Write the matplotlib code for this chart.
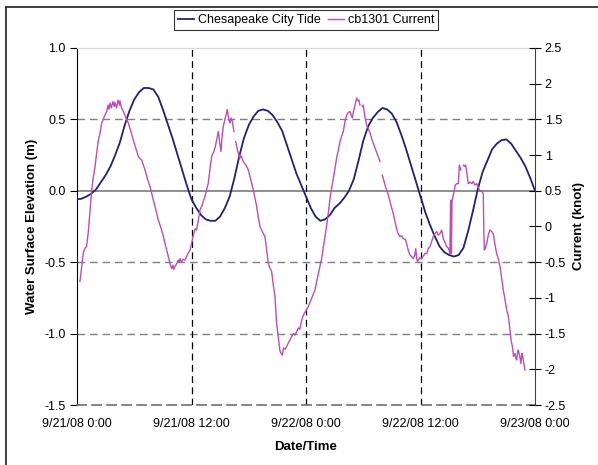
import matplotlib

matplotlib.use("Agg")
import matplotlib.dates as mdates
import matplotlib.pyplot as plt
import numpy as np
import pandas as pd
from matplotlib.lines import Line2D

plt.rcParams["font.family"] = ["Liberation Sans", "DejaVu Sans"]

start = pd.Timestamp("2008-09-21 00:00")

# Chesapeake City tide, every half hour from start -> elevation (m)
tide_hours = [i * 0.5 for i in range(97)]
tide_m = [
    -0.06, -0.055, -0.04, -0.02, 0.01, 0.06, 0.11, 0.17, 0.25, 0.34,
    0.46, 0.56, 0.64, 0.69, 0.72, 0.72, 0.71, 0.66, 0.57, 0.47,
    0.37, 0.26, 0.15, 0.04, -0.06, -0.12, -0.17, -0.20, -0.21, -0.21,
    -0.18, -0.12, -0.04, 0.09, 0.24, 0.37, 0.46, 0.52, 0.56, 0.57,
    0.56, 0.53, 0.48, 0.42, 0.32, 0.22, 0.12, 0.04, -0.04, -0.12,
    -0.18, -0.21, -0.20, -0.17, -0.12, -0.09, -0.05, 0.00, 0.08, 0.21,
    0.35, 0.45, 0.51, 0.55, 0.58, 0.57, 0.54, 0.48, 0.39, 0.29,
    0.18, 0.07, -0.04, -0.15, -0.24, -0.32, -0.39, -0.43, -0.45, -0.46,
    -0.45, -0.40, -0.28, -0.14, 0.01, 0.13, 0.21, 0.29, 0.33, 0.355,
    0.36, 0.33, 0.28, 0.23, 0.17, 0.09, 0.00,
]

# cb1301 current, hours after start -> knots (nan = gap in record)
cur_hours = [
    0.31, 0.50, 0.66, 0.85, 1.00, 1.19, 1.35, 1.54, 1.70, 1.89,
    2.05, 2.24, 2.40, 2.59, 2.80, 3.00, 3.11, 3.25, 3.35, 3.46,
    3.60, 3.75, 3.90, 3.98, 4.15, 4.30, 4.45, 4.50, 4.65, 4.86,
    5.10, 5.38, 5.65, 5.90, 6.15, 6.43, 6.60, 6.78, 7.00, 7.13,
    7.40, 7.65, 7.85, 8.00, 8.25, 8.52, 8.80, 9.05, 9.30, 9.57,
    9.75, 9.92, 10.05, 10.15, 10.27, 10.45, 10.60, 10.70, 10.79, 10.95,
    11.10, 11.32, 11.55, 11.84, 12.00, 12.19, 12.40, 12.54, 12.71, 12.89,
    13.10, 13.25, 13.41, 13.60, 13.76, 13.95, 14.11, 14.30, 14.46, 14.65,
    14.81, 14.95, 15.09, 15.20, 15.33, 15.50, 15.65, 15.75, 15.85, 15.95,
    16.03, 16.15, 16.28, 16.45, 16.54, 16.63, 16.85, 17.08, 17.20, 17.43,
    17.70, 17.96, 18.20, 18.48, 18.65, 18.83, 19.00, 19.18, 19.45, 19.70,
    19.85, 20.05, 20.20, 20.40, 20.55, 20.75, 20.85, 20.92, 21.10, 21.27,
    21.40, 21.52, 21.65, 21.80, 21.97, 22.20, 22.35, 22.50, 22.70, 22.85,
    23.02, 23.20, 23.35, 23.55, 23.80, 24.00, 24.24, 24.60, 24.94, 25.12,
    25.40, 25.64, 25.90, 26.17, 26.35, 26.51, 26.70, 26.86, 27.05, 27.21,
    27.40, 27.56, 27.75, 27.91, 28.10, 28.26, 28.45, 28.61, 28.75, 28.86,
    28.95, 29.07, 29.20, 29.31, 29.45, 29.55, 29.65, 29.78, 29.90, 30.00,
    30.15, 30.35, 30.50, 30.71, 30.95, 31.23, 31.50, 31.76, 31.88, 32.00,
    32.10, 32.35, 32.63, 32.90, 33.15, 33.35, 33.50, 33.65, 33.85, 34.00,
    34.20, 34.40, 34.55, 34.75, 34.90, 35.05, 35.25, 35.40, 35.50, 35.60,
    35.70, 35.90, 36.12, 36.30, 36.47, 36.64, 36.85, 37.00, 37.20, 37.34,
    37.50, 37.70, 37.85, 38.04, 38.22, 38.39, 38.55, 38.74, 38.90, 38.99,
    39.08, 39.15, 39.20, 39.24, 39.30, 39.40, 39.54, 39.65, 39.79, 39.97,
    40.03, 40.07, 40.15, 40.24, 40.36, 40.49, 40.60, 40.73, 40.87, 41.00,
    41.20, 41.37, 41.53, 41.70, 41.89, 42.05, 42.24, 42.40, 42.58, 42.64,
    42.69, 42.80, 42.94, 43.10, 43.28, 43.45, 43.63, 43.80, 43.98, 44.15,
    44.33, 44.50, 44.68, 44.85, 45.03, 45.20, 45.38, 45.50, 45.63, 45.75,
    45.90, 46.00, 46.08, 46.18, 46.25, 46.40, 46.53, 46.60, 46.67, 46.80,
    46.95,
]
cur_knots = [
    -0.77, -0.55, -0.37, -0.30, -0.28, -0.07, 0.20, 0.51, 0.68, 0.84,
    1.02, 1.21, 1.30, 1.45, 1.52, 1.58, 1.61, 1.70, 1.64, 1.73,
    1.66, 1.75, 1.68, 1.74, 1.66, 1.77, 1.70, 1.76, 1.67, 1.61,
    1.53, 1.45, 1.33, 1.21, 1.10, 0.98, 0.95, 0.93, 0.84, 0.79,
    0.66, 0.56, 0.45, 0.37, 0.24, 0.09, -0.02, -0.14, -0.28, -0.42,
    -0.52, -0.59, -0.54, -0.60, -0.56, -0.52, -0.47, -0.50, -0.45, -0.50,
    -0.46, -0.47, -0.40, -0.33, -0.24, -0.12, -0.03, -0.05, 0.09, 0.23,
    0.29, 0.36, 0.42, 0.52, 0.61, 0.82, 0.98, 1.04, 1.10, 1.22,
    1.33, 1.18, 1.05, 1.25, 1.40, 1.50, 1.58, 1.64, 1.55, 1.48,
    1.45, 1.52, 1.47, 1.33, np.nan, 1.19, 1.05, 0.96, 0.99, 0.91,
    0.86, 0.79, 0.66, 0.51, 0.40, 0.28, 0.13, 0.00, -0.08, -0.14,
    -0.30, -0.52, -0.58, -0.63, -0.80, -0.98, -1.20, -1.36, -1.55, -1.74,
    -1.78, -1.80, -1.70, -1.72, -1.68, -1.62, -1.58, -1.54, -1.50, -1.52,
    -1.47, -1.42, -1.44, -1.31, -1.22, -1.18, -1.12, -1.00, -0.89, -0.77,
    -0.60, -0.45, -0.22, 0.02, 0.20, 0.39, 0.55, 0.67, 0.82, 0.96,
    1.08, 1.19, 1.27, 1.33, 1.48, 1.56, 1.60, 1.61, 1.56, 1.52,
    1.60, 1.66, 1.74, 1.80, 1.76, 1.77, 1.70, np.nan, 1.68, 1.70,
    1.55, 1.42, 1.38, 1.31, 1.20, 1.10, 1.00, 0.91, np.nan, 0.72,
    0.67, 0.55, 0.44, 0.30, 0.18, 0.05, -0.03, -0.10, -0.14, -0.13,
    -0.17, -0.18, -0.24, -0.35, -0.40, -0.42, -0.45, -0.40, -0.31, -0.45,
    -0.49, -0.44, -0.45, -0.41, -0.38, -0.38, -0.30, -0.28, -0.20, -0.14,
    -0.10, -0.07, -0.12, -0.10, -0.05, -0.17, -0.22, -0.28, -0.30, -0.33,
    -0.38, 0.30, 0.37, -0.38, 0.35, 0.42, 0.51, 0.58, 0.60, 0.60,
    0.75, 0.86, 0.83, 0.79, np.nan, 0.86, 0.84, 0.86, 0.74, 0.60,
    0.62, 0.60, 0.63, 0.58, 0.60, 0.55, 0.49, 0.50, 0.46, -0.10,
    -0.33, -0.30, -0.24, -0.12, -0.05, -0.07, -0.10, -0.25, -0.38, -0.45,
    -0.56, -0.72, -0.89, -1.02, -1.17, -1.25, -1.45, -1.60, -1.68, -1.82,
    -1.78, -1.85, -1.87, -1.75, -1.73, -1.82, -1.92, -1.78, -1.78, -1.90,
    -2.01,
]

tide_t = start + pd.to_timedelta(tide_hours, unit="h")
cur_t = start + pd.to_timedelta(cur_hours, unit="h")
end = start + pd.Timedelta(hours=48)

tide_color = "#22226E"
cur_color = "#B850B4"

fig = plt.figure(figsize=(5.98, 4.65), dpi=100)
ax = fig.add_axes([77 / 598, 1 - 405 / 465, 458 / 598, 357 / 465])
ax2 = ax.twinx()

ax.set_xlim(start, end)
ax.set_ylim(-1.5, 1.0)
ax2.set_ylim(-2.5, 2.5)

# grid lines, Excel style
dash = (0, (5.5, 3.5))
for yv in [0.5, -0.5, -1.0]:
    ax.axhline(yv, color="#808080", lw=1.0, linestyle=dash, zorder=1)
ax.axhline(0.0, color="#707070", lw=1.1, zorder=1)
for hv in [12, 24, 36]:
    ax.axvline(start + pd.Timedelta(hours=hv), color="black", lw=0.9,
               linestyle=dash, zorder=1)

l1, = ax.plot(tide_t, tide_m, color=tide_color, lw=1.3, zorder=3,
              label="Chesapeake City Tide")
l2, = ax2.plot(cur_t, cur_knots, color=cur_color, lw=1.0, zorder=3,
               label="cb1301 Current")

# spines
ax.spines["top"].set_color("#d8d8d8")
ax.spines["top"].set_linewidth(0.8)
ax2.spines["top"].set_visible(False)
ax.spines["bottom"].set_color("#707070")
ax.spines["bottom"].set_linestyle(dash)
ax.spines["bottom"].set_linewidth(1.2)
ax2.spines["bottom"].set_visible(False)
ax2.spines["left"].set_visible(False)
ax.spines["right"].set_visible(False)
ax.spines["left"].set_color("black")
ax2.spines["right"].set_color("#404040")

ax.set_yticks([1.0, 0.5, 0.0, -0.5, -1.0, -1.5])
ax.set_yticklabels(["1.0", "0.5", "0.0", "-0.5", "-1.0", "-1.5"])
ax2_ticks = [2.5, 2, 1.5, 1, 0.5, 0, -0.5, -1, -1.5, -2, -2.5]
ax2.set_yticks(ax2_ticks)
ax2.set_yticklabels([f"{v:g}" for v in ax2_ticks])

ax.set_xticks([start + pd.Timedelta(hours=h) for h in [0, 12, 24, 36, 48]])
ax.xaxis.set_major_formatter(plt.FuncFormatter(
    lambda v, pos: (lambda d: f"{d.month}/{d.day}/{d:%y} {d.hour}:{d:%M}")(
        mdates.num2date(v))))

ax.tick_params(axis="y", direction="out", length=5, width=0.8, labelsize=9,
               pad=3)
ax2.tick_params(axis="y", direction="inout", length=8, width=0.8,
                labelsize=9, pad=3)
ax.tick_params(axis="x", length=0, labelsize=9, pad=9)

ax.set_ylabel("Water Surface Elevation (m)", fontsize=9.5, fontweight="bold",
              labelpad=5)
ax2.set_ylabel("Current (knot)", fontsize=9.5, fontweight="bold", labelpad=5)
ax.set_xlabel("Date/Time", fontsize=9.5, fontweight="bold", labelpad=8)

leg = fig.legend(handles=[l1, l2], loc="center",
                 bbox_to_anchor=(306 / 598, 1 - 20 / 465), ncol=2,
                 fontsize=9, frameon=True, fancybox=False, borderpad=0.3,
                 handlelength=1.3, handletextpad=0.3, columnspacing=0.6,
                 borderaxespad=0)
leg.get_frame().set_edgecolor("black")
leg.get_frame().set_linewidth(0.8)

# outer chart frame (cut off at right and bottom)
fig.add_artist(Line2D([6 / 598, 6 / 598], [0, 1 - 7 / 465], color="#303030",
                      lw=1.3))
fig.add_artist(Line2D([6 / 598, 1], [1 - 7 / 465, 1 - 7 / 465],
                      color="#303030", lw=1.3))

fig.savefig("out.png", dpi=100)
